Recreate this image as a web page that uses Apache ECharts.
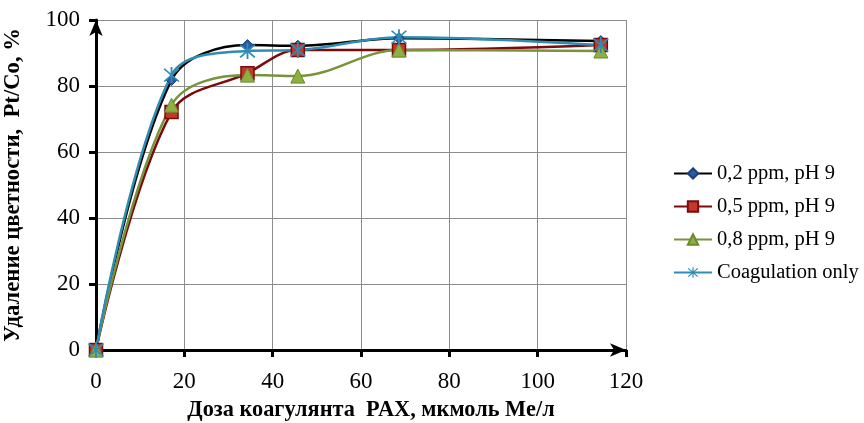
<!DOCTYPE html>
<html>
<head>
<meta charset="utf-8">
<script src="https://cdn.jsdelivr.net/npm/echarts@6/dist/echarts.min.js"></script>
<style>
  html, body { margin: 0; padding: 0; background: #fff; }
  #chart { width: 864px; height: 423px; }
</style>
</head>
<body>
<div id="chart"></div>
<script>
// Coagulant dose, µmol Me/L
const doses = [0, 17.1, 34.3, 45.7, 68.6, 114.3];

// Colour removal, %
const ppm02 = [0, 81.8, 92.4, 92.2, 94.5, 93.6];
const ppm05 = [0, 72.1, 83.9, 90.9, 90.9, 92.4];
const ppm08 = [0, 74.2, 83.3, 83.0, 90.9, 90.6];
const coagOnly = [0, 83.3, 90.6, 90.9, 94.8, 92.4];

const seriesNames = ['0,2 ppm, pH 9', '0,5 ppm, pH 9', '0,8 ppm, pH 9', 'Coagulation only'];
const xTicks = [0, 20, 40, 60, 80, 100, 120];
const yTicks = [0, 20, 40, 60, 80, 100];

const FONT = '"Liberation Serif", "Times New Roman", serif';

// asterisk marker: vertical bar plus two diagonals
const asterisk = 'path://M-1,-10L1,-10L1,10L-1,10Z' +
  'M-7.3,-8.7L8.7,7.3L7.3,8.7L-8.7,-7.3Z' +
  'M-8.7,7.3L7.3,-8.7L8.7,-7.3L-7.3,8.7Z';

const pairs = ys => doses.map((x, i) => [x, ys[i]]);

const chart = echarts.init(document.getElementById('chart'), null, { renderer: 'canvas' });

chart.setOption({
  animation: false,
  backgroundColor: '#ffffff',
  grid: { left: 96, right: 238, top: 20, bottom: 73, containLabel: false, outerBoundsMode: 'none' },
  legend: {
    orient: 'vertical',
    left: 668,
    top: 158,
    itemWidth: 38,
    itemHeight: 13,
    itemGap: 12,
    textStyle: { fontFamily: FONT, fontSize: 20.5, color: '#000' },
    data: seriesNames
  },
  xAxis: {
    type: 'value',
    min: xTicks[0],
    max: xTicks[xTicks.length - 1],
    interval: 20,
    name: 'Доза коагулянта  PAX, мкмоль Me/л',
    nameLocation: 'middle',
    nameGap: 49,
    nameTextStyle: { fontFamily: FONT, fontSize: 22.3, fontWeight: 'bold', color: '#000', padding: [0, 0, 0, 20] },
    axisLine: { show: true, lineStyle: { color: '#000', width: 3 }, symbol: ['none', 'arrow'], symbolSize: [10, 16] },
    axisTick: { show: true, length: 7, lineStyle: { color: '#000', width: 3 } },
    axisLabel: { fontFamily: FONT, fontSize: 23, color: '#000', margin: 20 },
    splitLine: { show: true, lineStyle: { color: '#8c8c8c', width: 1 } }
  },
  yAxis: {
    type: 'value',
    min: yTicks[0],
    max: yTicks[yTicks.length - 1],
    interval: 20,
    name: 'Удаление цветности,  Pt/Co, %',
    nameLocation: 'middle',
    nameRotate: 90,
    nameGap: 71,
    nameTextStyle: { fontFamily: FONT, fontSize: 22.7, fontWeight: 'bold', color: '#000' },
    axisLine: { show: true, lineStyle: { color: '#000', width: 3 }, symbol: ['none', 'arrow'], symbolSize: [10, 16] },
    axisTick: { show: true, length: 7, lineStyle: { color: '#000', width: 3 } },
    axisLabel: { fontFamily: FONT, fontSize: 23, color: '#000', margin: 16 },
    splitLine: { show: true, lineStyle: { color: '#8c8c8c', width: 1 } }
  },
  series: [
    {
      name: seriesNames[0], type: 'line', data: pairs(ppm02), smooth: 0.35,
      lineStyle: { color: '#000000', width: 2.5 },
      symbol: 'diamond', symbolSize: 11,
      itemStyle: { color: '#2a5aa0', borderColor: '#1c3f78', borderWidth: 1 }
    },
    {
      name: seriesNames[1], type: 'line', data: pairs(ppm05), smooth: 0.35,
      lineStyle: { color: '#7b0a0a', width: 2.5 },
      symbol: 'rect', symbolSize: 13,
      itemStyle: { color: '#c0392b', borderColor: '#7b0a0a', borderWidth: 1.5 }
    },
    {
      name: seriesNames[2], type: 'line', data: pairs(ppm08), smooth: 0.35,
      lineStyle: { color: '#77933c', width: 2.5 },
      symbol: 'triangle', symbolSize: 14,
      itemStyle: { color: '#8db043', borderColor: '#6b8a2e', borderWidth: 1 }
    },
    {
      name: seriesNames[3], type: 'line', data: pairs(coagOnly), smooth: 0.35,
      lineStyle: { color: '#2f8db3', width: 2.5 },
      symbol: asterisk, symbolSize: 16,
      itemStyle: { color: '#2f8db3' }
    }
  ]
});
</script>
</body>
</html>
